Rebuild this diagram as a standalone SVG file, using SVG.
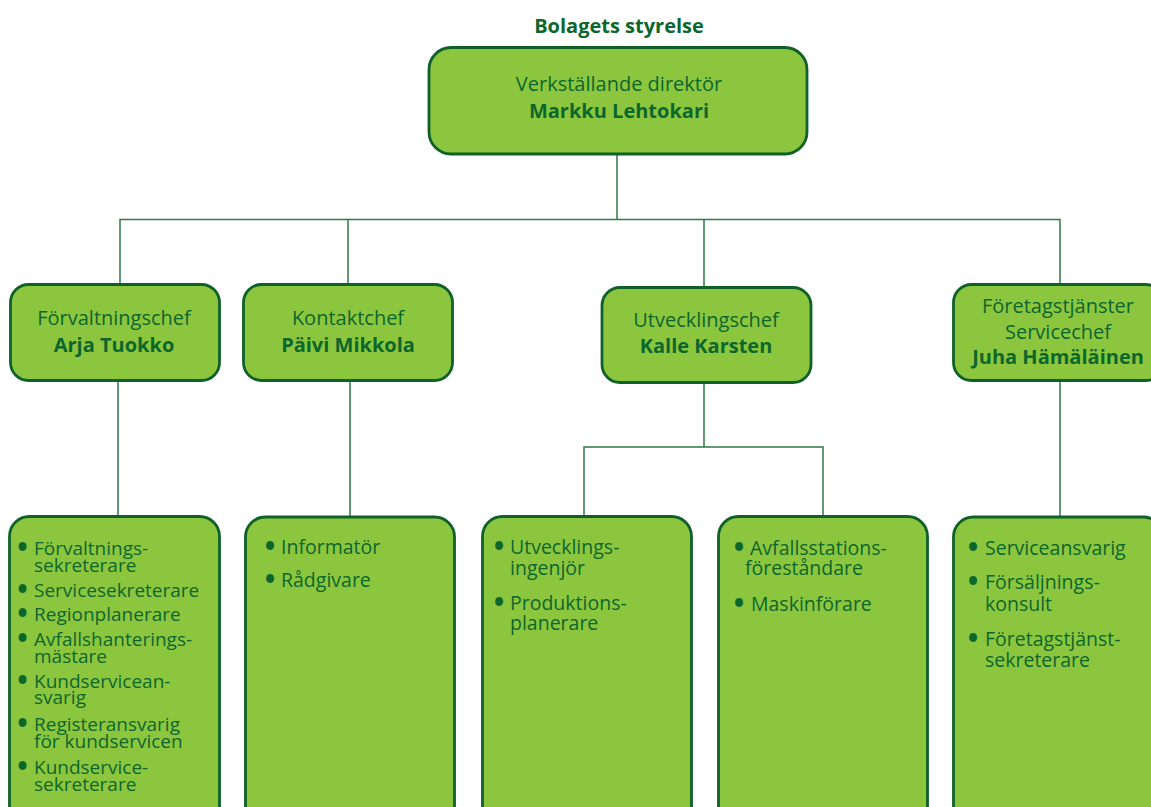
<svg xmlns="http://www.w3.org/2000/svg" width="1151" height="807" viewBox="0 0 1151 807">
<style>
  .box { fill: #8cc63f; stroke: #0f6129; stroke-width: 2.8; }
  .conn { fill: none; stroke: #2f7a4a; stroke-width: 1.5; }
  text { font-family: "Open Sans", "Liberation Sans", sans-serif; fill: #0c672c; }
  .t { font-size: 20px; text-anchor: middle; }
  .b { font-weight: 700; }
  .li { font-size: 19.5px; }
  .lt { font-size: 19px; }
  .bu { font-size: 28px; font-weight: 700; text-anchor: middle; }
  .title { font-size: 20px; font-weight: 700; text-anchor: middle; }
</style>
<rect width="1151" height="807" fill="#ffffff"/>

<g id="connectors">
  <path class="conn" d="M617 154 V219.5 M120 284 V219.5 H1060 V284 M348 219.5 V284 M704 219.5 V287"/>
  <path class="conn" d="M118 381 V516 M350 381 V517 M704 383 V447 M584 516 V447 H823 V516 M1060 381 V517"/>
</g>

<text id="title" class="title" x="619" y="33">Bolagets styrelse</text>

<g id="node-vd">
  <rect class="box" x="429" y="47.5" width="378" height="106.5" rx="22"/>
  <text class="t" x="619" y="91">Verkställande direktör</text>
  <text class="t b" x="619" y="118">Markku Lehtokari</text>
</g>

<g id="node-forvaltning">
  <rect class="box" x="10.5" y="284.5" width="209" height="96" rx="18"/>
  <text class="t" x="114" y="325">Förvaltningschef</text>
  <text class="t b" x="114" y="352">Arja Tuokko</text>
</g>

<g id="node-kontakt">
  <rect class="box" x="243.5" y="284.5" width="209" height="96" rx="18"/>
  <text class="t" x="348" y="325">Kontaktchef</text>
  <text class="t b" x="348" y="352">Päivi Mikkola</text>
</g>

<g id="node-utveckling">
  <rect class="box" x="602" y="287.5" width="209" height="95" rx="18"/>
  <text class="t" x="706" y="327">Utvecklingschef</text>
  <text class="t b" x="706" y="353">Kalle Karsten</text>
</g>

<g id="node-foretag">
  <rect class="box" x="953.5" y="284.5" width="210" height="96" rx="18"/>
  <text class="t" x="1058" y="313">Företagstjänster</text>
  <text class="t" x="1058" y="339">Servicechef</text>
  <text class="t b" x="1058" y="364">Juha Hämäläinen</text>
</g>

<g id="list-forvaltning">
  <rect class="box" x="9.5" y="516.5" width="210" height="320" rx="20"/>
  <text class="lt"><tspan class="bu" x="22.5" y="557">•</tspan><tspan x="34" y="555">Förvaltnings-</tspan><tspan x="34" y="572">sekreterare</tspan></text>
  <text class="lt"><tspan class="bu" x="22.5" y="599">•</tspan><tspan x="34" y="597">Servicesekreterare</tspan></text>
  <text class="lt"><tspan class="bu" x="22.5" y="623">•</tspan><tspan x="34" y="621">Regionplanerare</tspan></text>
  <text class="lt"><tspan class="bu" x="22.5" y="648">•</tspan><tspan x="34" y="646">Avfallshanterings-</tspan><tspan x="34" y="663">mästare</tspan></text>
  <text class="lt"><tspan class="bu" x="22.5" y="690">•</tspan><tspan x="34" y="688">Kundservicean-</tspan><tspan x="34" y="704">svarig</tspan></text>
  <text class="lt"><tspan class="bu" x="22.5" y="733">•</tspan><tspan x="34" y="731">Registeransvarig</tspan><tspan x="34" y="748">för kundservicen</tspan></text>
  <text class="lt"><tspan class="bu" x="22.5" y="776">•</tspan><tspan x="34" y="774">Kundservice-</tspan><tspan x="34" y="791">sekreterare</tspan></text>
</g>

<g id="list-kontakt">
  <rect class="box" x="245.5" y="517" width="209" height="320" rx="20"/>
  <text class="li"><tspan class="bu" x="270" y="556">•</tspan><tspan x="281" y="554">Informatör</tspan></text>
  <text class="li"><tspan class="bu" x="270" y="589">•</tspan><tspan x="281" y="587">Rådgivare</tspan></text>
</g>

<g id="list-utveckling-1">
  <rect class="box" x="482.5" y="516.5" width="209" height="320" rx="20"/>
  <text class="li"><tspan class="bu" x="499" y="556">•</tspan><tspan x="510" y="554">Utvecklings-</tspan><tspan x="510" y="575">ingenjör</tspan></text>
  <text class="li"><tspan class="bu" x="499" y="612">•</tspan><tspan x="510" y="610">Produktions-</tspan><tspan x="510" y="630">planerare</tspan></text>
</g>

<g id="list-utveckling-2">
  <rect class="box" x="718.5" y="516.5" width="209" height="320" rx="20"/>
  <text class="li"><tspan class="bu" x="739" y="557">•</tspan><tspan x="750" y="555">Avfallsstations-</tspan><tspan x="745" y="575">föreståndare</tspan></text>
  <text class="li"><tspan class="bu" x="739" y="613">•</tspan><tspan x="751" y="611">Maskinförare</tspan></text>
</g>

<g id="list-foretag">
  <rect class="box" x="953.5" y="517" width="210" height="320" rx="20"/>
  <text class="li"><tspan class="bu" x="973" y="557">•</tspan><tspan x="985" y="555">Serviceansvarig</tspan></text>
  <text class="li"><tspan class="bu" x="973" y="591">•</tspan><tspan x="985" y="589">Försäljnings-</tspan><tspan x="985" y="611">konsult</tspan></text>
  <text class="li"><tspan class="bu" x="973" y="648">•</tspan><tspan x="985" y="646">Företagstjänst-</tspan><tspan x="985" y="667">sekreterare</tspan></text>
</g>
</svg>
